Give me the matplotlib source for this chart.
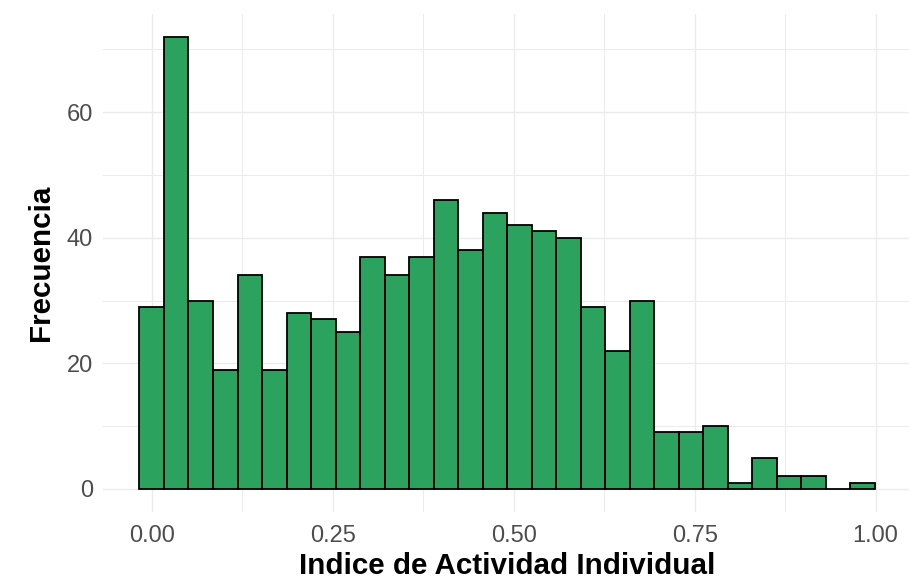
import numpy as np
import matplotlib.pyplot as plt
from matplotlib.ticker import MultipleLocator

# histogram counts (30 bins, ggplot style: first bin centred on min, last on max)
counts = [29, 72, 30, 19, 34, 19, 28, 27, 25, 37,
          34, 37, 46, 38, 44, 42, 41, 40, 29, 22,
          30, 9, 9, 10, 1, 5, 2, 2, 0, 1]
x_min = 0.0
x_max = 0.982
x_ticks = [0.00, 0.25, 0.50, 0.75, 1.00]
x_labels = ["0.00", "0.25", "0.50", "0.75", "1.00"]
y_ticks = [0, 20, 40, 60]

plt.rcParams['font.family'] = ['Liberation Sans', 'DejaVu Sans']

nbins = len(counts)
width = (x_max - x_min) / (nbins - 1)
centers = x_min + width * np.arange(nbins)

fig = plt.figure(figsize=(9.09, 5.83), dpi=100)
ax = fig.add_axes([0.11295, 0.1225, 0.890, 0.8532])

ax.bar(centers, counts, width=width, color='#2ca25f', edgecolor='black',
       linewidth=1.3, zorder=3)

# ggplot-like 5% expansion
lo = centers[0] - width / 2
hi = centers[-1] + width / 2
pad = 0.05 * (hi - lo)
ax.set_xlim(lo - pad, hi + pad)
ymax = max(counts)
ax.set_ylim(-0.05 * ymax, ymax * 1.05)

ax.set_xticks(x_ticks)
ax.set_xticklabels(x_labels)
ax.set_yticks(y_ticks)
ax.xaxis.set_minor_locator(MultipleLocator(0.125))
ax.yaxis.set_minor_locator(MultipleLocator(10))

ax.grid(True, which='major', color='#ebebeb', linewidth=1.0, zorder=0)
ax.grid(True, which='minor', color='#ebebeb', linewidth=0.7, zorder=0)
ax.set_axisbelow(True)

for s in ax.spines.values():
    s.set_visible(False)
ax.tick_params(which='both', length=0)
ax.tick_params(axis='x', pad=10, labelsize=17, labelcolor='#4d4d4d')
ax.tick_params(axis='y', pad=7, labelsize=17, labelcolor='#4d4d4d')

ax.set_xlabel("Indice de Actividad Individual", fontsize=21.3,
              fontweight='bold', labelpad=3)
ax.set_ylabel("Frecuencia", fontsize=21.3, fontweight='bold', labelpad=8)

fig.savefig('out.png', dpi=100)
